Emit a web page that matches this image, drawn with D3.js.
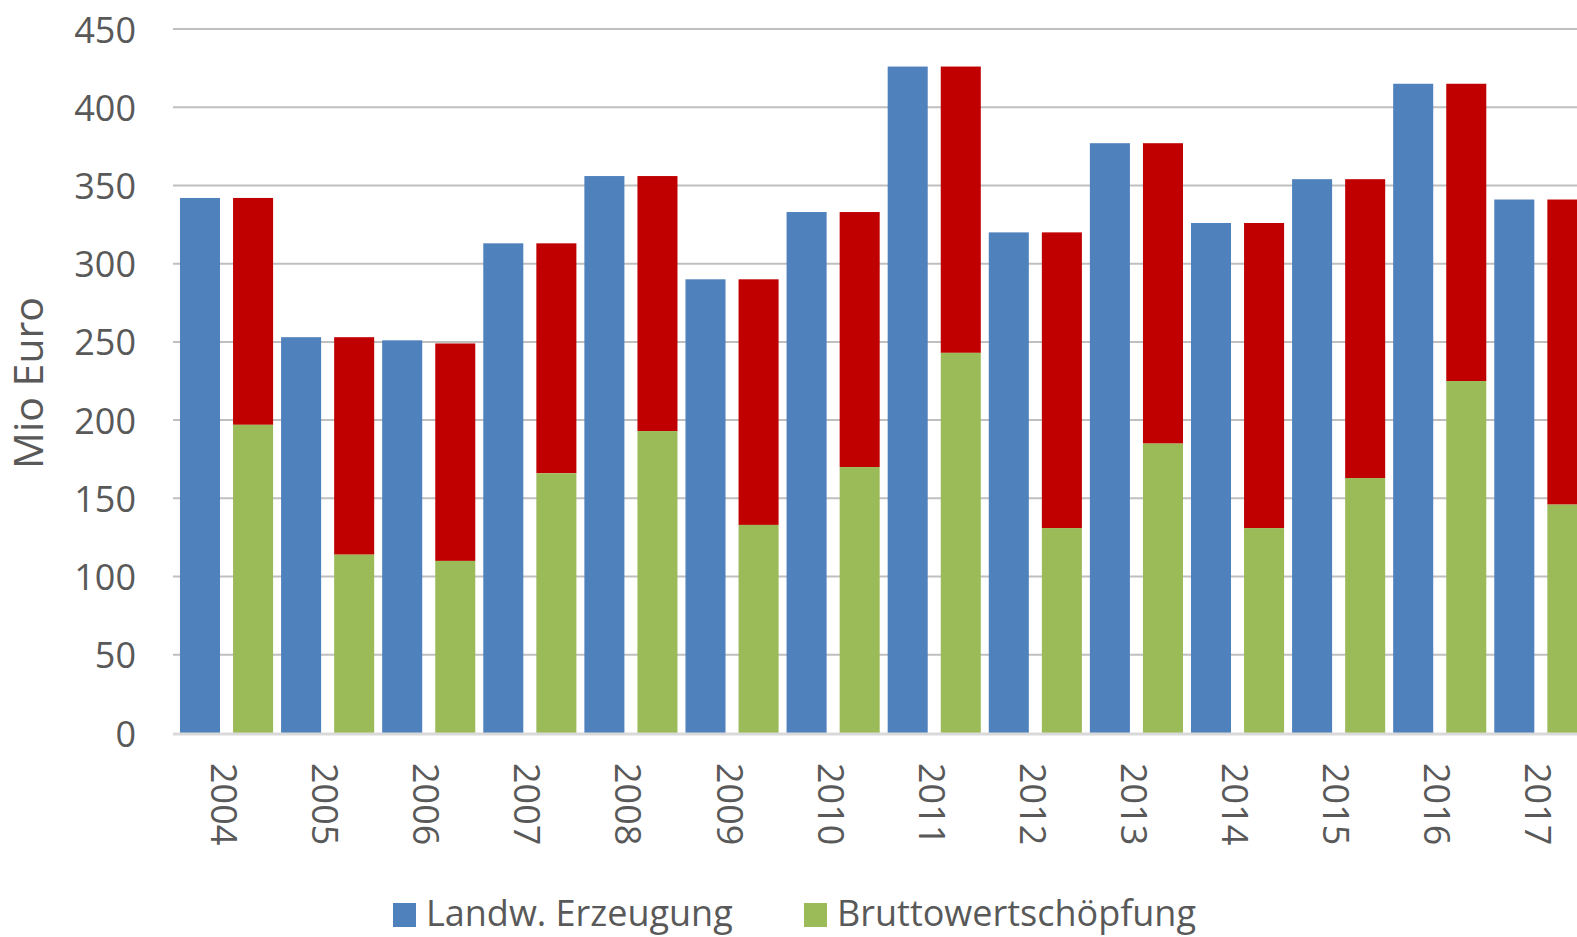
<!DOCTYPE html>
<html>
<head>
<meta charset="utf-8">
<script src="https://cdn.jsdelivr.net/npm/d3@7"></script>
<style>
  html, body { margin: 0; padding: 0; background: #fff; overflow: hidden; }
  svg { display: block; font-family: "Open Sans", sans-serif; }
</style>
</head>
<body>
<svg id="chart" width="1577" height="937"></svg>
<script>
const years = ["2004","2005","2006","2007","2008","2009","2010","2011","2012","2013","2014","2015","2016","2017"];
const landwErzeugung = [342, 253, 251, 313, 356, 290, 333, 426, 320, 377, 326, 354, 415, 341];
const bruttowertschoepfung = [197, 114, 110, 166, 193, 133, 170, 243, 131, 185, 131, 163, 225, 146];
const vorleistungen = [145, 139, 139, 147, 163, 157, 163, 183, 189, 192, 195, 191, 190, 195];
const yTicks = [0, 50, 100, 150, 200, 250, 300, 350, 400, 450];
const legendLabels = ["Landw. Erzeugung", "Bruttowertschöpfung"];

(function () {
const colors = { blue: "#4f81bd", green: "#9bbb59", red: "#c00000" };
const textColor = "#595959";

const svg = d3.select("#chart");
const plotLeft = 173, plotTop = 29, plotBottom = 733;
const bandW = 101.1;

const x = d3.scaleBand().domain(years).range([plotLeft, plotLeft + bandW * years.length]).padding(0);
const y = d3.scaleLinear().domain([0, 450]).range([plotBottom, plotTop]);
const bw = x.bandwidth();

// gridlines
svg.append("g").selectAll("line").data(yTicks.filter(d => d > 0)).join("line")
  .attr("x1", plotLeft).attr("x2", 1577)
  .attr("y1", d => y(d)).attr("y2", d => y(d))
  .attr("stroke", "#bfbfbf").attr("stroke-width", 2);

// y tick labels
svg.append("g").selectAll("text").data(yTicks).join("text")
  .attr("x", 136).attr("y", d => y(d))
  .attr("text-anchor", "end").attr("dominant-baseline", "central")
  .attr("font-size", 36).attr("fill", textColor)
  .text(d => d);

// y axis title
svg.append("text")
  .attr("transform", `translate(43, 383) rotate(-90)`)
  .attr("text-anchor", "middle")
  .attr("font-size", 41).attr("fill", textColor)
  .text("Mio Euro");

const rows = years.map((yr, i) => ({
  year: yr, landw: landwErzeugung[i], brutto: bruttowertschoepfung[i], vor: vorleistungen[i]
}));

// blue bars
svg.append("g").selectAll("rect").data(rows).join("rect")
  .attr("x", d => x(d.year) + bw * 0.069)
  .attr("width", bw * 0.396)
  .attr("y", d => y(d.landw))
  .attr("height", d => y(0) - y(d.landw))
  .attr("fill", colors.blue);

// stacked: green bottom, red top
const stackX = d => x(d.year) + bw * 0.594;
const stackW = bw * 0.396;
svg.append("g").selectAll("rect").data(rows).join("rect")
  .attr("x", stackX).attr("width", stackW)
  .attr("y", d => y(d.brutto + d.vor))
  .attr("height", d => y(d.brutto) - y(d.brutto + d.vor))
  .attr("fill", colors.red);
svg.append("g").selectAll("rect").data(rows).join("rect")
  .attr("x", stackX).attr("width", stackW)
  .attr("y", d => y(d.brutto))
  .attr("height", d => y(0) - y(d.brutto))
  .attr("fill", colors.green);

// x axis line
svg.append("line")
  .attr("x1", plotLeft).attr("x2", 1577)
  .attr("y1", y(0) + 1).attr("y2", y(0) + 1)
  .attr("stroke", "#d9d9d9").attr("stroke-width", 3);

// x labels (rotated)
svg.append("g").selectAll("text").data(years).join("text")
  .attr("transform", d => `translate(${x(d) + bw / 2 + 1}, 763) rotate(90)`)
  .attr("text-anchor", "start").attr("dominant-baseline", "central")
  .attr("font-size", 36).attr("fill", textColor)
  .text(d => d);

// legend
const legendItems = [
  { label: legendLabels[0], color: colors.blue, x: 393 },
  { label: legendLabels[1], color: colors.green, x: 804 }
];
const lg = svg.append("g").selectAll("g").data(legendItems).join("g");
lg.append("rect")
  .attr("x", d => d.x).attr("y", 903).attr("width", 23).attr("height", 24)
  .attr("fill", d => d.color);
lg.append("text")
  .attr("x", d => d.x + 33).attr("y", 926)
  .attr("font-size", 36).attr("fill", textColor)
  .text(d => d.label);
})();
</script>
</body>
</html>
